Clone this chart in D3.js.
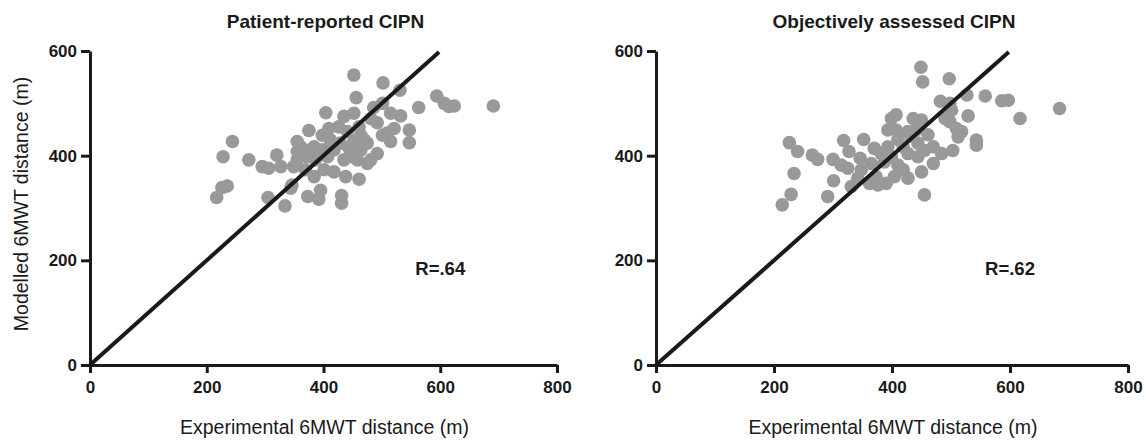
<!DOCTYPE html>
<html>
<head>
<meta charset="utf-8">
<script src="https://cdn.jsdelivr.net/npm/d3@7"></script>
<style>
  body { margin: 0; background: #fff; }
  svg text { font-family: "Liberation Sans", Arial, Helvetica, sans-serif; fill: #1a1a1a; }
</style>
</head>
<body>
<div id="chart"></div>
<script>
// data
var titles = ['Patient-reported CIPN', 'Objectively assessed CIPN'];
var rLabels = ['R=.64', 'R=.62'];
var xTicks = [0, 200, 400, 600, 800];
var yTicks = [0, 200, 400, 600];

var leftX = [452,502,531,456,594,607,624,691,615,563,404,486,501,435,452,515,532,492,521,547,
  547,515,501,375,409,398,426,441,464,355,384,244,228,272,295,306,320,327,355,355,
  349,369,384,401,418,438,461,346,344,235,226,217,305,334,373,395,392,431,431,492,
  475,447,435,464,475,418,407,386,372,481,461,470,452,444,429,412,398,378,361,509,458,481];
var leftY = [554,539,525,511,514,500,495,495,494,492,482,492,500,475,481,481,476,463,452,449,
  425,427,439,448,452,439,455,446,439,427,417,427,398,392,379,376,401,379,408,392,
  379,373,360,373,369,360,355,344,338,342,339,320,320,304,322,334,317,324,309,404,
  385,398,392,411,424,411,398,392,398,471,455,430,427,414,424,430,411,411,417,443,392,392];

var rightX = [449,452,497,527,558,586,597,617,684,482,498,501,529,490,498,407,399,436,450,393,
  407,427,441,461,509,518,512,543,543,226,240,265,274,318,352,327,300,314,325,346,
  370,382,393,419,444,470,484,503,470,450,427,410,387,365,348,234,301,342,331,362,
  376,390,229,214,291,455,419,399,427,444,455,432,410,373,404];
var rightY = [569,541,547,516,514,505,506,471,490,504,500,487,476,471,465,478,471,471,468,449,
  449,446,449,440,452,446,436,430,420,425,408,401,393,429,431,408,393,382,376,395,
  414,404,417,417,424,417,404,410,385,369,357,382,388,385,373,366,352,357,341,347,
  344,347,326,306,322,325,373,398,404,398,410,437,431,360,360];

var width = 1146, height = 442;
var svg = d3.select('#chart').append('svg')
  .attr('width', width)
  .attr('height', height);

var panels = [
  { x0: 90, x1: 557, xs: leftX, ys: leftY },
  { x0: 656, x1: 1128, xs: rightX, ys: rightY }
];
var yTop = 51, yBottom = 365;

panels.forEach(function(p, i) {
  var x = d3.scaleLinear().domain([0, 800]).range([p.x0, p.x1]);
  var y = d3.scaleLinear().domain([0, 600]).range([yBottom, yTop]);
  var g = svg.append('g');

  // axes
  var xAxis = g.append('g')
    .attr('transform', 'translate(0,' + yBottom + ')')
    .call(d3.axisBottom(x).tickValues(xTicks).tickSize(8).tickSizeOuter(0).tickPadding(8));
  var yAxis = g.append('g')
    .attr('transform', 'translate(' + p.x0 + ',0)')
    .call(d3.axisLeft(y).tickValues(yTicks).tickSize(9).tickSizeOuter(0).tickPadding(4));
  [xAxis, yAxis].forEach(function(a) {
    a.select('.domain').attr('stroke', '#1a1a1a').attr('stroke-width', 3);
    a.selectAll('.tick line').attr('stroke', '#1a1a1a').attr('stroke-width', 3);
    a.selectAll('.tick text')
      .style('font-size', '17px')
      .style('font-weight', 'bold')
      .attr('fill', '#1a1a1a');
  });

  // points
  g.append('g').selectAll('circle')
    .data(p.xs.map(function(d, j) { return [d, p.ys[j]]; }))
    .enter().append('circle')
    .attr('cx', function(d) { return x(d[0]); })
    .attr('cy', function(d) { return y(d[1]); })
    .attr('r', 6.8)
    .attr('fill', '#999999');

  // line of identity
  g.append('line')
    .attr('x1', x(0)).attr('y1', y(0))
    .attr('x2', x(598)).attr('y2', y(598))
    .attr('stroke', '#1a1a1a')
    .attr('stroke-width', 4);

  // R label
  g.append('text')
    .attr('x', x(600)).attr('y', y(172))
    .attr('text-anchor', 'middle')
    .style('font-size', '18.5px')
    .style('font-weight', 'bold')
    .text(rLabels[i]);

  // title
  g.append('text')
    .attr('x', (p.x0 + p.x1) / 2 + 2).attr('y', 28)
    .attr('text-anchor', 'middle')
    .style('font-size', '19px')
    .style('font-weight', 'bold')
    .text(titles[i]);

  // x label
  g.append('text')
    .attr('x', (p.x0 + p.x1) / 2 + 1).attr('y', 434)
    .attr('text-anchor', 'middle')
    .style('font-size', '19.5px')
    .text('Experimental 6MWT distance (m)');
});

// y label (left panel only)
svg.append('text')
  .attr('transform', 'translate(28,' + 204 + ') rotate(-90)')
  .attr('text-anchor', 'middle')
  .style('font-size', '19.5px')
  .text('Modelled 6MWT distance (m)');
</script>
</body>
</html>
